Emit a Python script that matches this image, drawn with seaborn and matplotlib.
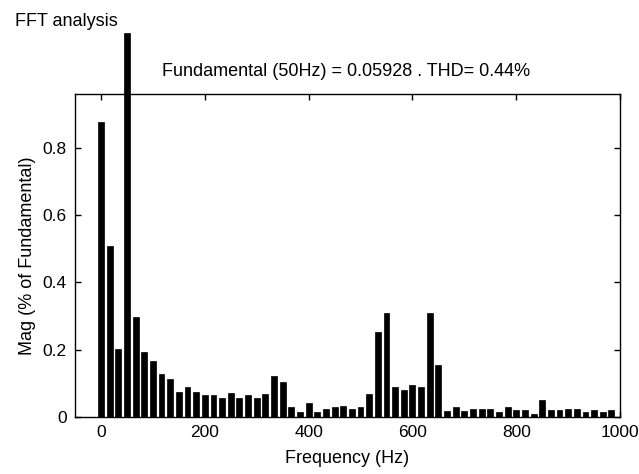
import numpy as np
import pandas as pd
import matplotlib
matplotlib.use("Agg")
import matplotlib.pyplot as plt
import seaborn as sns

# ---- data ----
harmonic_step_hz = 50.0 / 3.0
magnitudes = [
    0.876, 0.507, 0.203, 1.14, 0.297, 0.193, 0.166, 0.127, 0.113, 0.075,
    0.089, 0.075, 0.066, 0.066, 0.056, 0.070, 0.056, 0.066, 0.056, 0.069,
    0.122, 0.103, 0.029, 0.015, 0.043, 0.015, 0.025, 0.029, 0.034, 0.025,
    0.029, 0.069, 0.253, 0.310, 0.089, 0.080, 0.094, 0.089, 0.310, 0.154,
    0.019, 0.029, 0.019, 0.025, 0.025, 0.025, 0.015, 0.029, 0.020, 0.020,
    0.010, 0.049, 0.020, 0.020, 0.025, 0.025, 0.015, 0.020, 0.015, 0.020,
]
frequencies = [k * harmonic_step_hz for k in range(len(magnitudes))]
x_ticks = [0, 200, 400, 600, 800, 1000]
y_ticks = [0, 0.2, 0.4, 0.6, 0.8]
fig_title = "FFT analysis"
axes_title = "Fundamental (50Hz) = 0.05928 . THD= 0.44%"
x_label = "Frequency (Hz)"
y_label = "Mag (% of Fundamental)"

df = pd.DataFrame({"freq": frequencies, "mag": magnitudes})

sns.set_theme(style="ticks")
plt.rcParams["font.family"] = ["Liberation Sans", "DejaVu Sans"]

fig = plt.figure(figsize=(6.39, 4.74), dpi=100)
ax = fig.add_axes([0.1174, 0.1203, 0.853, 0.6814])

sns.barplot(data=df, x="freq", y="mag", native_scale=True, width=0.68,
            color="black", saturation=1, edgecolor="black", linewidth=0.5, ax=ax)
for p in ax.patches:
    p.set_clip_on(False)

ax.set_xlim(-50, 1000)
ax.set_ylim(0, 0.96)
ax.set_xticks(x_ticks)
ax.set_xticklabels([str(t) for t in x_ticks])
ax.set_yticks(y_ticks)
ax.set_yticklabels(["0", "0.2", "0.4", "0.6", "0.8"])
ax.tick_params(direction="in", top=True, right=True, length=4, width=1,
               labelsize=12.5, colors="black", pad=6)
for s in ax.spines.values():
    s.set_visible(True)
    s.set_color("black")
    s.set_linewidth(1)

ax.set_xlabel(x_label, fontsize=13, color="black", labelpad=7)
ax.set_ylabel(y_label, fontsize=13, color="black", labelpad=5)

fig.text(15 / 639, 1 - 21 / 474, fig_title, fontsize=13, ha="left", va="center", color="black")
fig.text(346 / 639, 1 - 71 / 474, axes_title, fontsize=13, ha="center", va="center", color="black")

fig.savefig("out.png", dpi=100, facecolor="white")
